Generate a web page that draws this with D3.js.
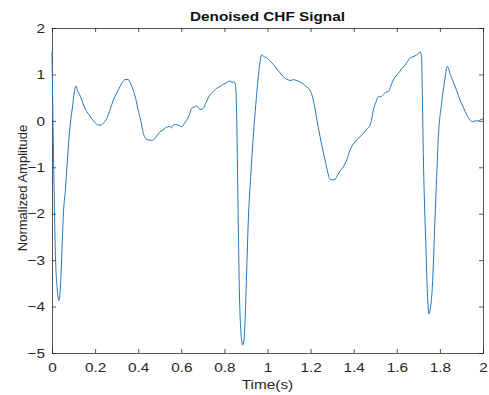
<!DOCTYPE html>
<html>
<head>
<meta charset="utf-8">
<script src="https://cdn.jsdelivr.net/npm/d3@7"></script>
<style>
  body { margin: 0; background: #fff; }
  text { font-family: "Liberation Sans", Arial, sans-serif; fill: #262626; }
</style>
</head>
<body>
<svg id="chart" width="489" height="395"></svg>
<script>
// values
const time = [0, 0.008, 0.016, 0.024, 0.0325, 0.04, 0.047, 0.053, 0.062, 0.072, 0.082, 0.087, 0.095, 0.103, 0.11,
  0.12, 0.13, 0.138, 0.15, 0.161, 0.172, 0.184, 0.2, 0.215, 0.227, 0.24, 0.254, 0.27, 0.285, 0.3, 0.316, 0.33,
  0.339, 0.354, 0.365, 0.377, 0.39, 0.4, 0.412, 0.424, 0.435, 0.447, 0.462, 0.478, 0.49, 0.501, 0.515, 0.525,
  0.532, 0.545, 0.555, 0.563, 0.575, 0.59, 0.602, 0.615, 0.625, 0.635, 0.648, 0.66, 0.671, 0.68, 0.687, 0.702,
  0.715, 0.733, 0.75, 0.764, 0.78, 0.795, 0.81, 0.826, 0.835, 0.846, 0.852, 0.857, 0.862, 0.869, 0.876, 0.885,
  0.89, 0.896, 0.903, 0.911, 0.922, 0.934, 0.943, 0.953, 0.962, 0.973, 0.985, 0.995, 1.004, 1.02, 1.035, 1.05,
  1.066, 1.08, 1.097, 1.11, 1.12, 1.128, 1.145, 1.159, 1.175, 1.19, 1.197, 1.21, 1.22, 1.232, 1.244, 1.255,
  1.267, 1.278, 1.29, 1.3, 1.313, 1.325, 1.336, 1.352, 1.368, 1.383, 1.398, 1.414, 1.43, 1.445, 1.46, 1.476,
  1.484, 1.491, 1.503, 1.514, 1.525, 1.537, 1.55, 1.561, 1.572, 1.584, 1.595, 1.607, 1.622, 1.638, 1.65, 1.661,
  1.675, 1.692, 1.7, 1.708, 1.712, 1.715, 1.719, 1.723, 1.736, 1.742, 1.749, 1.757, 1.765, 1.777, 1.785, 1.793,
  1.808, 1.82, 1.835, 1.848, 1.862, 1.878, 1.893, 1.91, 1.924, 1.94, 1.952, 1.965, 1.978, 1.99, 2.0];
const amplitude = [1.49, -1.0, -2.9, -3.6, -3.87, -3.5, -2.7, -1.99, -1.5, -0.8, -0.2, 0.02, 0.3, 0.6, 0.75,
  0.63, 0.55, 0.45, 0.3, 0.2, 0.13, 0.05, -0.04, -0.09, -0.09, -0.04, 0.05, 0.25, 0.45, 0.6, 0.74, 0.85,
  0.89, 0.89, 0.8, 0.66, 0.45, 0.23, 0.0, -0.27, -0.38, -0.41, -0.42, -0.38, -0.3, -0.23, -0.2, -0.15,
  -0.14, -0.12, -0.15, -0.09, -0.08, -0.1, -0.13, -0.05, 0.02, 0.1, 0.27, 0.3, 0.32, 0.28, 0.24, 0.27,
  0.4, 0.56, 0.64, 0.7, 0.74, 0.79, 0.82, 0.86, 0.83, 0.84, 0.74, 0.1, -1.42, -3.57, -4.5, -4.83,
  -4.75, -4.29, -3.3, -2.14, -1.2, -0.34, 0.2, 0.74, 1.15, 1.42, 1.38, 1.36, 1.33, 1.25, 1.17, 1.08,
  0.99, 0.92, 0.88, 0.87, 0.89, 0.88, 0.85, 0.82, 0.76, 0.7, 0.66, 0.5, 0.27, -0.05, -0.34, -0.6,
  -0.84, -1.08, -1.26, -1.27, -1.26, -1.17, -1.09, -0.99, -0.84, -0.63, -0.5, -0.41, -0.34, -0.27, -0.18, -0.09,
  0.05, 0.23, 0.4, 0.52, 0.52, 0.56, 0.62, 0.63, 0.75, 0.88, 0.96, 1.02, 1.12, 1.2, 1.28, 1.35,
  1.38, 1.42, 1.45, 1.49, 1.45, 1.38, 0.4, -0.7, -2.85, -3.7, -4.16, -4.0, -3.57, -2.14, -1.2, -0.34,
  0.38, 0.8, 1.17, 1.0, 0.84, 0.65, 0.45, 0.28, 0.13, 0.02, -0.02, 0.0, 0.0, 0.03, 0.04];
const xTicks = [0, 0.2, 0.4, 0.6, 0.8, 1, 1.2, 1.4, 1.6, 1.8, 2];
const yTicks = [-5, -4, -3, -2, -1, 0, 1, 2];

const svg = d3.select("#chart");
const plotLeft = 52, plotRight = 483, plotTop = 28, plotBottom = 353;
const axisColor = "#2b2b2b";
// the reference image is a bit stretched sideways, horizontal text too
const stretch = 1.18;

const x = d3.scaleLinear().domain([0, 2]).range([plotLeft, plotRight]);
const y = d3.scaleLinear().domain([-5, 2]).range([plotBottom, plotTop]);

// bottom axis, ticks pointing inward
const gx = svg.append("g")
  .attr("transform", "translate(0," + plotBottom + ")")
  .call(d3.axisBottom(x).tickValues(xTicks).tickSize(-4).tickPadding(10).tickFormat(d3.format("")));
// left axis
const gy = svg.append("g")
  .attr("transform", "translate(" + plotLeft + ",0)")
  .call(d3.axisLeft(y).tickValues(yTicks).tickSize(-4).tickPadding(6).tickFormat(d3.format("")));
// top and right, ticks only
const gt = svg.append("g")
  .attr("transform", "translate(0," + plotTop + ")")
  .call(d3.axisTop(x).tickValues(xTicks).tickSize(-4).tickFormat(""));
const gr = svg.append("g")
  .attr("transform", "translate(" + plotRight + ",0)")
  .call(d3.axisRight(y).tickValues(yTicks).tickSize(-4).tickFormat(""));

[gx, gy, gt, gr].forEach(g => {
  g.select(".domain").attr("stroke", axisColor).attr("stroke-width", 0.8);
  g.selectAll(".tick line").attr("stroke", axisColor).attr("stroke-width", 0.8);
  g.selectAll(".tick text").attr("fill", "#333").style("font-size", "13px")
    .style("font-family", '"Liberation Sans", Arial, sans-serif')
    .attr("transform", "scale(" + stretch + ",1)");
});

// signal
const line = d3.line()
  .x((d, i) => x(time[i]))
  .y(d => y(d))
  .curve(d3.curveMonotoneX);

svg.append("path")
  .datum(amplitude)
  .attr("fill", "none")
  .attr("stroke", "#1f77bf")
  .attr("stroke-width", 1)
  .attr("d", line);

// title and labels
svg.append("text")
  .attr("transform", "translate(" + (plotLeft + plotRight) / 2 + ",21) scale(" + stretch + ",1)")
  .attr("text-anchor", "middle")
  .style("font-size", "13px").style("font-weight", "bold")
  .style("fill", "#111")
  .text("Denoised CHF Signal");

svg.append("text")
  .attr("transform", "translate(" + (plotLeft + plotRight) / 2 + ",389) scale(" + stretch + ",1)")
  .attr("text-anchor", "middle")
  .style("font-size", "13px")
  .text("Time(s)");

svg.append("text")
  .attr("transform", "translate(27," + 188 + ") rotate(-90)")
  .attr("text-anchor", "middle")
  .style("font-size", "13px")
  .text("Normalized Amplitude");
</script>
</body>
</html>
